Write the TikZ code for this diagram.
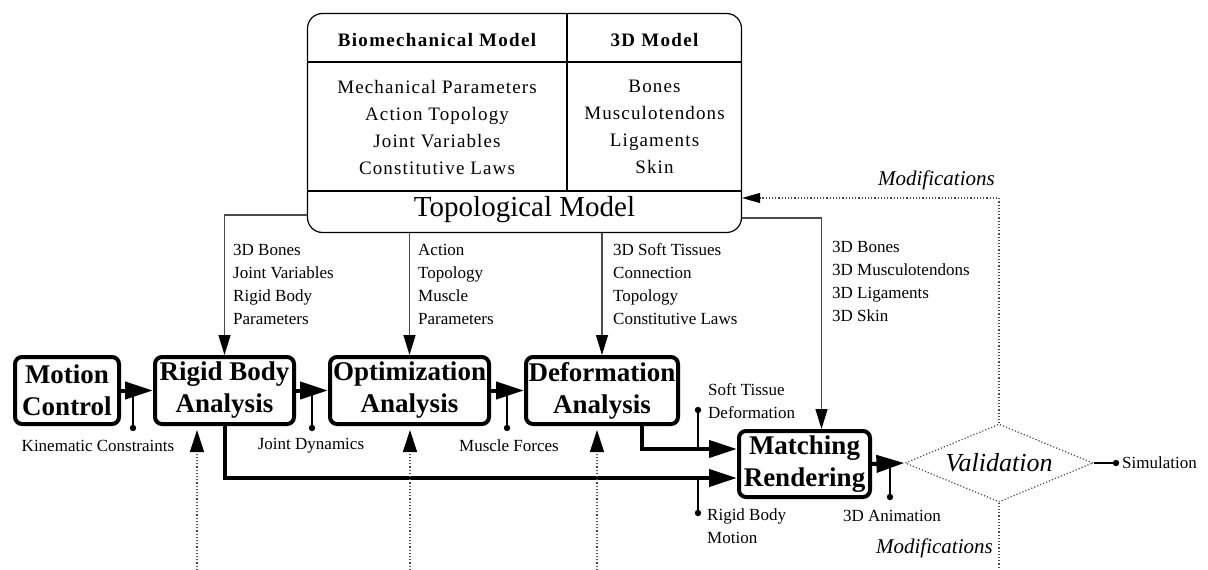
\documentclass[tikz,border=0pt]{standalone}
\usepackage{fontspec}
\setmainfont{Liberation Serif}
\usetikzlibrary{arrows.meta,shapes.geometric}
\begin{document}
\begin{tikzpicture}[x=1pt,y=-1pt,
  proc/.style={draw, line width=4pt, rounded corners=7pt,
    font=\fontsize{27}{32}\selectfont\bfseries, align=center, inner sep=1pt,
    minimum height=67pt},
  flow/.style={line width=4pt, -{Triangle[length=28pt,width=17pt]}},
  feed/.style={draw=black!70, line width=1.2pt,
    -{Triangle[length=20pt,width=12pt,color=black]}},
  uparr/.style={draw=black!70, line width=1.2pt, dash pattern=on 1.2pt off 2pt,
    -{Triangle[length=22pt,width=14pt,color=black]}},
  modarr/.style={draw=black!70, line width=1.2pt, dash pattern=on 1.2pt off 2pt,
    -{Triangle[length=18pt,width=10pt,color=black]}},
  dotline/.style={draw=black!70, line width=1.2pt, dash pattern=on 1.2pt off 2pt},
  tap/.style={line width=1.5pt},
  lbl/.style={font=\fontsize{17}{23}\selectfont, inner sep=0pt, align=left},
  hdr/.style={font=\fontsize{19}{27}\selectfont\bfseries\addfontfeature{LetterSpace=7}, inner sep=0pt, align=center},
  lst/.style={font=\fontsize{19}{27}\selectfont\addfontfeature{LetterSpace=6}, inner sep=0pt, align=center},
  modlbl/.style={font=\fontsize{21}{25}\selectfont\itshape, inner sep=0pt},
  dotc/.style={fill=black}
]
\useasboundingbox (0,0) rectangle (1208,570);

% top box
\node[draw, line width=1.2pt, rounded corners=15pt, minimum width=434pt,
      minimum height=219pt, inner sep=0pt] (top) at (524.5,123) {};
\draw[line width=1.2pt] (307.6,62) -- (741.4,62);
\draw[line width=1.2pt] (567,13) -- (567,191);
\draw[line width=1.2pt] (307.6,191) -- (741.4,191);
\node[hdr] (bm) at (437,40) {Biomechanical Model};
\node[hdr] (tdm) at (654.5,40) {3D Model};
\node[lst] (bml) at (437,127) {Mechanical Parameters\\Action Topology\\Joint Variables\\Constitutive Laws};
\node[lst] (tdl) at (654.5,127) {Bones\\Musculotendons\\Ligaments\\Skin};
\node[font=\fontsize{29}{34}\selectfont, inner sep=0pt] (tm) at (524.5,210) {Topological Model};

% process boxes
\node[proc, minimum width=104pt] (mc) at (67,390.5) {Motion\\Control};
\node[proc, minimum width=139pt] (rb) at (224.5,390.5) {Rigid Body\\Analysis};
\node[proc, minimum width=159pt] (opt) at (409.5,390.5) {Optimization\\Analysis};
\node[proc, minimum width=152pt] (def) at (602,390.5) {Deformation\\Analysis};
\node[proc, minimum width=131pt, minimum height=66pt] (mr) at (804.5,464) {Matching\\Rendering};

% validation diamond
\node[draw=black!70, line width=1.2pt, dash pattern=on 1.2pt off 2pt, shape=diamond,
      aspect=2.41, minimum width=188pt, minimum height=78pt, inner sep=0pt,
      font=\fontsize{26}{30}\selectfont\itshape] (val) at (999,463) {Validation};

% feeds from the top box
\draw[feed] ([yshift=-92pt]top.west) -| (rb.north);
\draw[feed] (opt.north |- top.south) -- (opt.north);
\draw[feed] (def.north |- top.south) -- (def.north);
\draw[feed] ([yshift=-95pt]top.east) -| ([xshift=17pt]mr.north);

\node[lbl, anchor=west] (l1) at (233,284.5) {3D Bones\\Joint Variables\\Rigid Body\\Parameters};
\node[lbl, anchor=west] (l2) at (418,284.5) {Action\\Topology\\Muscle\\Parameters};
\node[lbl, anchor=west] (l3) at (613,284) {3D Soft Tissues\\Connection\\Topology\\Constitutive Laws};
\node[lbl, anchor=west] (l4) at (832,281.5) {3D Bones\\3D Musculotendons\\3D Ligaments\\3D Skin};

% main flow
\draw[flow] (mc.east) -- (rb.west);
\draw[flow] (rb.east) -- (opt.west);
\draw[flow] (opt.east) -- (def.west);
\coordinate (dm) at ([yshift=15pt]mr.west);
\coordinate (rm) at ([yshift=-14pt]mr.west);
\draw[flow] ([xshift=40pt]def.south) |- (dm);
\draw[flow] (rb.south) |- (rm);
\draw[flow] (mr.east) -- (val.west);

% taps
\coordinate (d1) at (133,428);
\coordinate (d2) at (312,428);
\coordinate (d3) at (507,428);
\coordinate (d4) at (890,497);
\coordinate (sd) at (698,410);
\coordinate (rd) at (698,513);
\coordinate (sm) at (1116,463);
\draw[tap] (d1 |- mc.east) -- (d1); \fill[dotc] (d1) circle (3.2pt);
\draw[tap] (d2 |- rb.east) -- (d2); \fill[dotc] (d2) circle (3.2pt);
\draw[tap] (d3 |- opt.east) -- (d3); \fill[dotc] (d3) circle (3.2pt);
\draw[tap] (d4 |- mr.east) -- (d4); \fill[dotc] (d4) circle (3.2pt);
\draw[tap] (sd |- dm) -- (sd); \fill[dotc] (sd) circle (3.2pt);
\draw[tap] (rd |- rm) -- (rd); \fill[dotc] (rd) circle (3.2pt);
\draw[tap] (val.east) -- (sm); \fill[dotc] (sm) circle (3.2pt);

\node[lbl] (kc) at (98,446) {Kinematic Constraints};
\node[lbl] (jd) at (311,446) {Joint Dynamics};
\node[lbl] (mf) at (509,446) {Muscle Forces};
\node[lbl] (an) at (892,516) {3D Animation};
\node[lbl, anchor=west] (st) at (708,401.5) {Soft Tissue\\Deformation};
\node[lbl, anchor=west] (rbm) at (707,526) {Rigid Body\\Motion};
\node[lbl, anchor=west] (sim) at (1122,463) {Simulation};

% modifications loop
\draw[modarr] (val.north) |- ([yshift=-75pt]top.east);
\coordinate (vb) at (999,570);
\draw[dotline] (val.south) -- (vb);
\node[modlbl, anchor=east] (m1) at (995,180) {Modifications};
\node[modlbl, anchor=east] (m2) at (993,548) {Modifications};

% upward dotted arrows
\coordinate (u1) at (197,570);
\coordinate (u2) at (410,570);
\coordinate (u3) at (597,570);
\draw[uparr, shorten >=4pt] (u1) -- (u1 |- rb.south);
\draw[uparr, shorten >=4pt] (u2) -- (u2 |- opt.south);
\draw[uparr, shorten >=4pt] (u3) -- (u3 |- def.south);
\end{tikzpicture}
\end{document}
